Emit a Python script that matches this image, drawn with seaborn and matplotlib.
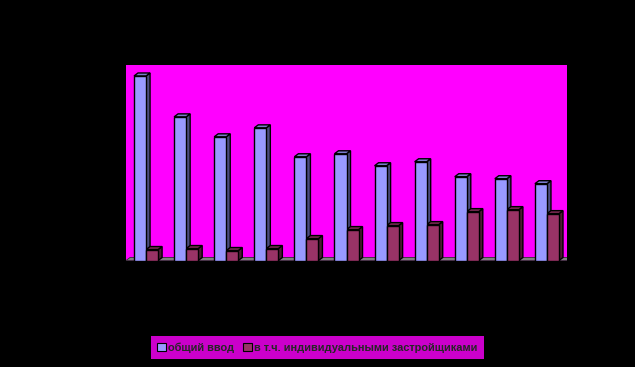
import matplotlib
matplotlib.use("Agg")
import matplotlib.pyplot as plt
from matplotlib.patches import Polygon
import seaborn as sns
import pandas as pd

categories = ["1", "2", "3", "4", "5", "6", "7", "8", "9", "10", "11"]
total_input = [185, 144, 124, 133, 104, 107, 95, 99, 84, 82, 77]
individual = [11, 12, 10, 12, 22, 31, 35, 36, 49, 51, 47]
series_names = ["общий ввод", "в т.ч. индивидуальными застройщиками"]

df = pd.DataFrame({
    "cat": categories * 2,
    "value": total_input + individual,
    "series": [series_names[0]] * len(categories) + [series_names[1]] * len(categories),
})

front = {series_names[0]: "#9999FF", series_names[1]: "#993366"}
side = {series_names[0]: "#4C4C80", series_names[1]: "#4D1A33"}
top = {series_names[0]: "#7A7ACC", series_names[1]: "#7A2952"}

sns.set_theme(style="white")
plt.rcParams["font.family"] = ["Liberation Sans", "DejaVu Sans"]

fig = plt.figure(figsize=(6.35, 3.67), dpi=100, facecolor="black")
ax = fig.add_axes([126 / 635, 1 - 261 / 367, 441 / 635, 196 / 367])
ax.set_facecolor("#FF00FF")

sns.barplot(data=df, x="cat", y="value", hue="series", order=categories,
            hue_order=series_names, palette=front, width=0.6,
            edgecolor="black", linewidth=1.0, saturation=1, ax=ax, zorder=3)

dx, dy = 0.1, 3.0
n = len(categories)
floor = Polygon([(-0.5, 0), (n - 0.5, 0), (n - 0.5 + dx, dy), (-0.5 + dx, dy)],
                closed=True, facecolor="#808080", edgecolor="#303030", lw=0.6, zorder=1)
ax.add_patch(floor)

for s, cont in zip(series_names, ax.containers):
    for p in cont.patches:
        x0, w, h = p.get_x(), p.get_width(), p.get_height()
        sidep = Polygon([(x0 + w, 0), (x0 + w + dx, dy), (x0 + w + dx, h + dy), (x0 + w, h)],
                        closed=True, facecolor=side[s], edgecolor="black", lw=1.0, zorder=2.5)
        topp = Polygon([(x0, h), (x0 + dx, h + dy), (x0 + w + dx, h + dy), (x0 + w, h)],
                       closed=True, facecolor=top[s], edgecolor="black", lw=1.0, zorder=2.5)
        ax.add_patch(sidep)
        ax.add_patch(topp)

ax.set_xlim(-0.5, n - 0.5)
ax.set_ylim(-0.5, 196)
ax.set_xlabel("")
ax.set_ylabel("")
ax.tick_params(colors="black", labelsize=7, length=0)
for sp in ax.spines.values():
    sp.set_visible(False)

leg = ax.get_legend()
handles = leg.legend_handles
leg.remove()
lg = fig.legend(handles, series_names, loc="center", bbox_to_anchor=(0.5, 1 - 347.5 / 367),
                ncol=2, frameon=True, fancybox=False, facecolor="#FF00FF", edgecolor="#FF00FF",
                prop={"weight": "bold", "size": 7.9}, handlelength=0.8, handleheight=0.8,
                handletextpad=0.2, columnspacing=0.8, borderpad=0.55, borderaxespad=0)
for h in lg.legend_handles:
    h.set_edgecolor("black")
    h.set_linewidth(0.8)
lg.get_frame().set_linewidth(0)

fig.savefig("out.png", dpi=100, facecolor="black")
